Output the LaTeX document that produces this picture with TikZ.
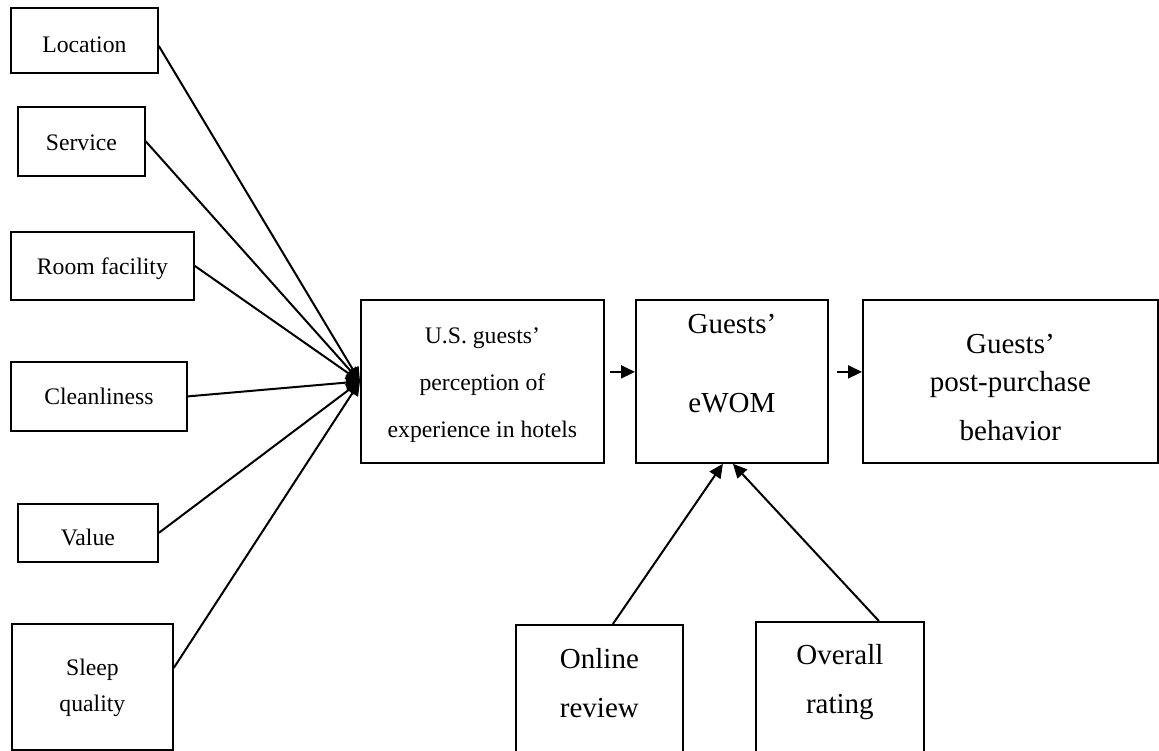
\documentclass[tikz,border=0pt]{standalone}
\usepackage{fontspec}
\setmainfont{Liberation Serif}
\usetikzlibrary{arrows.meta,positioning}

\tikzset{
  factor/.style={draw, line width=1.8pt, anchor=north west, inner sep=0pt,
    align=center, font=\fontsize{23.7}{36}\selectfont},
  stage/.style={factor, font=\fontsize{29}{49}\selectfont},
  arr/.style={-{Triangle[length=14pt,width=13pt]}, line width=2pt},
}

\begin{document}
\begin{tikzpicture}[x=1pt,y=-1pt]
\useasboundingbox (0,0) rectangle (1159,751);
\clip (0,0) rectangle (1159,751);
% attributes of the stay
\node[factor, minimum width=147pt, text height=45pt, text depth=20pt] (loc)   at (10,7)   {Location};
\node[factor, minimum width=127pt, text height=44pt, text depth=25pt] (serv)  at (17,106) {Service};
\node[factor, minimum width=183pt, text height=43pt, text depth=25pt] (room)  at (10,231) {Room facility};
\node[factor, minimum width=176pt, text height=43pt, text depth=26pt] (clean) at (10,361) {Cleanliness};
\node[factor, minimum width=140pt, text height=42pt, text depth=16pt] (val)   at (17,503) {Value};
\node[factor, minimum width=161pt, text height=88pt, text depth=38pt] (sleep) at (11,623) {Sleep\\quality};
% main chain
\node[factor, minimum width=243pt, text height=138pt, text depth=25pt,
      font=\fontsize{23.7}{47}\selectfont] (perc) at (360,299)
      {U.S. guests'\\perception of\\experience in hotels};
\node[stage, minimum width=192pt, text height=113pt, text depth=50pt,
      font=\fontsize{29}{79}\selectfont] (ewom) at (635,299) {Guests'\\eWOM};
\node[stage, minimum width=295pt, text height=141pt, text depth=22pt,
      font=\fontsize{29}{38}\selectfont] (post) at (862,299)
      {Guests'\\post-purchase\\[11pt]behavior};
% sources of eWOM
\node[stage, minimum width=167pt, text height=93pt, text depth=47pt] (rev)  at (515,624) {Online\\review};
\node[stage, minimum width=168pt, text height=92pt, text depth=51pt] (rate) at (755,621) {Overall\\rating};

\draw[arr] ([yshift=-5.5pt]loc.east) -- (perc.west);
\draw[arr] (serv.east) -- (perc.west);
\draw[arr] (room.east) -- (perc.west);
\draw[arr] (clean.east) -- (perc.west);
\draw[arr] (val.east) -- (perc.west);
\draw[arr] ([yshift=19pt]sleep.east) -- (perc.west);

\draw[arr, shorten <=5pt] ([yshift=9.5pt]perc.east) -- ([yshift=9.5pt]ewom.west);
\draw[arr, shorten <=8pt] ([yshift=9.5pt]ewom.east) -- ([yshift=9.5pt]post.west);

\draw[arr] ([xshift=13.5pt]rev.north) -- ([xshift=-9pt]ewom.south);
\draw[arr] ([xshift=39pt]rate.north) -- ([xshift=1pt]ewom.south);
\end{tikzpicture}
\end{document}
